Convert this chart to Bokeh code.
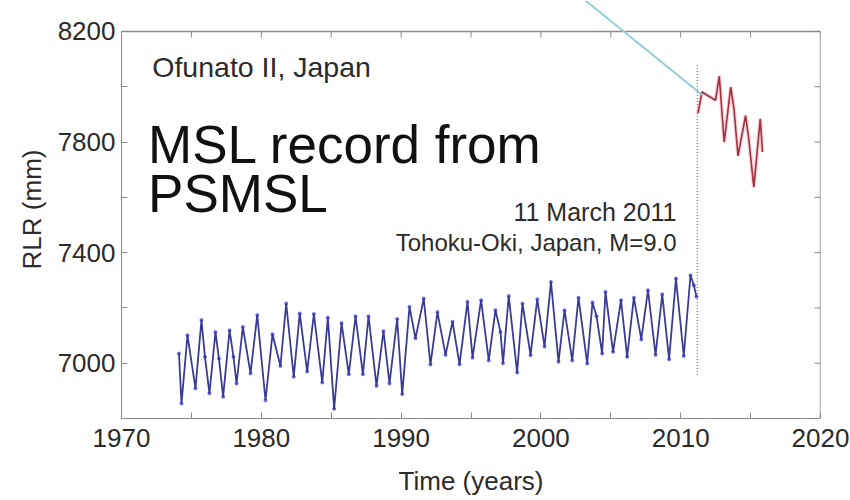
from bokeh.plotting import figure
from bokeh.models import Range1d, LinearAxis, FixedTicker, Label, Arrow
from bokeh.embed import file_html
from bokeh.resources import INLINE

# Monthly mean sea level, Ofunato II (PSMSL RLR), before the 2011 earthquake
blue_years = [1974.11, 1974.29, 1974.72, 1975.29, 1975.72, 1975.97, 1976.29, 1976.72,
              1976.97, 1977.27, 1977.73, 1978.01, 1978.23, 1978.68, 1979.23, 1979.71,
              1980.30, 1980.80, 1981.37, 1981.78, 1982.32, 1982.75, 1983.28, 1983.76,
              1984.36, 1984.76, 1985.21, 1985.74, 1986.26, 1986.74, 1987.27, 1987.67,
              1988.24, 1988.74, 1989.17, 1989.72, 1990.08, 1990.60, 1991.03, 1991.62,
              1992.10, 1992.60, 1993.18, 1993.68, 1994.18, 1994.75, 1995.11, 1995.72,
              1996.27, 1996.75, 1997.11, 1997.29, 1997.70, 1998.30, 1998.68, 1999.26,
              1999.74, 2000.26, 2000.72, 2001.26, 2001.69, 2002.24, 2002.69, 2003.31,
              2003.69, 2003.98, 2004.38, 2004.62, 2005.16, 2005.73, 2006.17, 2006.65,
              2007.18, 2007.66, 2008.20, 2008.68, 2009.17, 2009.66, 2010.22, 2010.70,
              2010.94, 2011.13]
blue_rlr = [7035, 6854, 7101, 6909, 7156, 7023, 6891, 7113,
            7017, 6879, 7119, 7023, 6927, 7131, 6963, 7174,
            6866, 7105, 6990, 7216, 6951, 7180, 6970, 7178,
            6930, 7165, 6835, 7145, 6960, 7170, 6960, 7170,
            6918, 7116, 6927, 7160, 6888, 7204, 7090, 7234,
            6995, 7185, 7030, 7150, 6996, 7222, 7020, 7228,
            7010, 7192, 7113, 7000, 7243, 6966, 7216, 7029,
            7231, 7060, 7294, 7005, 7192, 7010, 7237, 6999,
            7220, 7170, 7035, 7258, 7041, 7228, 7023, 7237,
            7086, 7264, 7030, 7249, 7014, 7306, 7026, 7318,
            7282, 7240]

# Record after the earthquake (coseismic offset)
red_years = [2011.24, 2011.52, 2012.49, 2012.76, 2013.11, 2013.58, 2013.81,
             2014.10, 2014.64, 2014.85, 2015.23, 2015.69, 2015.85]
red_rlr = [7905, 7981, 7951, 8038, 7800, 7999, 7920,
           7750, 7896, 7820, 7637, 7884, 7764]

quake_year = 2011.19
quake_span = [6957, 8084]

x_major = [1970, 1980, 1990, 2000, 2010, 2020]
x_minor = [1975, 1985, 1995, 2005, 2015]
y_major = [7000, 7400, 7800, 8200]
y_minor = [6800, 7200, 7600, 8000]

X0, X1 = 1970, 2020
Y0, Y1 = 6800, 8200
Y_TOP = 8312          # headroom above the box for the callout line

FONT = "Liberation Sans"
TEXT = "#2b2b2b"
FRAME = "#8a8a8a"
TICK_LEN = 6          # px

p = figure(frame_width=699, frame_height=418, output_backend="svg",
           toolbar_location=None, x_range=Range1d(X0, X1),
           y_range=Range1d(Y0, Y_TOP), x_axis_location=None, y_axis_location=None,
           min_border_left=121, min_border_right=30, min_border_top=0,
           min_border_bottom=82)
p.grid.visible = False
p.outline_line_color = None
p.background_fill_color = "white"
p.border_fill_color = "white"

px_per_x = 699 / (X1 - X0)
px_per_y = 418 / (Y_TOP - Y0)


def style_axis(ax):
    ax.axis_line_color = FRAME
    ax.major_tick_line_color = FRAME
    ax.minor_tick_line_color = FRAME
    ax.major_tick_in = TICK_LEN
    ax.major_tick_out = 0
    ax.minor_tick_in = TICK_LEN
    ax.minor_tick_out = 0
    ax.major_label_text_font = FONT
    ax.major_label_text_color = TEXT
    ax.major_label_text_font_size = "26px"
    ax.axis_label_text_font = FONT
    ax.axis_label_text_color = TEXT
    ax.axis_label_text_font_style = "normal"
    ax.axis_label_text_font_size = "26px"


bottom = LinearAxis(ticker=FixedTicker(ticks=x_major, minor_ticks=x_minor),
                    axis_label="Time (years)")
style_axis(bottom)
bottom.major_label_standoff = 10
bottom.axis_label_standoff = 16
p.add_layout(bottom, "below")

left = LinearAxis(ticker=FixedTicker(ticks=y_major, minor_ticks=y_minor),
                  axis_label="RLR (mm)", bounds=(Y0, Y1))
style_axis(left)
left.major_label_standoff = 6
left.axis_label_standoff = 8
p.add_layout(left, "left")

# Top and right edges of the box, with inward ticks
p.segment(x0=[X0, X1], y0=[Y1, Y0], x1=[X1, X1], y1=[Y1, Y1],
          line_color=FRAME, line_width=1.5)
top_ticks = x_major + x_minor
p.segment(x0=top_ticks, y0=[Y1] * len(top_ticks), x1=top_ticks,
          y1=[Y1 - TICK_LEN / px_per_y] * len(top_ticks), line_color=FRAME)
right_ticks = y_major + y_minor
p.segment(x0=[X1] * len(right_ticks), y0=right_ticks,
          x1=[X1 - TICK_LEN / px_per_x] * len(right_ticks), y1=right_ticks,
          line_color=FRAME)

# Earthquake marker
p.segment(x0=[quake_year], y0=[quake_span[0]], x1=[quake_year], y1=[quake_span[1]],
          line_color="#777777", line_width=1.2, line_dash="1 2")

# Pre-earthquake series
p.line(blue_years, blue_rlr, line_color="#3b3b96", line_width=1.8)
p.scatter(blue_years, blue_rlr, size=3, color="#2a2ac0", alpha=0.6)

# Post-earthquake series
p.line(red_years, red_rlr, line_color="#f4b6c2", line_width=4, line_alpha=0.6)
p.line(red_years, red_rlr, line_color="#a3303e", line_width=1.6)

# Callout line pointing to the post-earthquake record
p.add_layout(Arrow(end=None, x_start=2003.19, y_start=Y_TOP, x_end=red_years[1],
                   y_end=red_rlr[1] - 10, line_color="#93cfd5", line_width=2))

p.add_layout(Label(x=1972.2, y=8012, text="Ofunato II, Japan", text_font=FONT,
                   text_font_size="28.5px", text_color=TEXT))
p.add_layout(Label(x=1971.9, y=7686, text="MSL record from", text_font=FONT,
                   text_font_size="53px", text_color="#111111"))
p.add_layout(Label(x=1971.9, y=7506, text="PSMSL", text_font=FONT,
                   text_font_size="53px", text_color="#111111"))
p.add_layout(Label(x=2009.7, y=7496, text="11 March 2011", text_font=FONT,
                   text_font_size="25px", text_color=TEXT, text_align="right"))
p.add_layout(Label(x=2009.7, y=7387, text="Tohoku-Oki, Japan, M=9.0", text_font=FONT,
                   text_font_size="24px", text_color=TEXT, text_align="right"))

open("out.html", "w").write(file_html(p, INLINE))
